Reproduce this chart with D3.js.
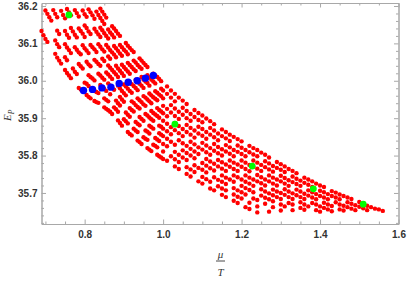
<!DOCTYPE html>
<html>
<head>
  <meta charset="utf-8">
  <title>E_P vs mu/T</title>
  <style>
    body { margin: 0; background: #fff; }
    svg { display: block; }
  </style>
</head>
<body>
  <svg width="409" height="281"></svg>
  <script src="https://cdn.jsdelivr.net/npm/d3@7/dist/d3.min.js"></script>
  <script>
  // 1. data ([mu/T, E_P] pairs), one array per strand of red dots
  var row0 = [[0.840,36.193],[0.845,36.185],[0.850,36.177],[0.855,36.169],
    [0.870,36.146],[0.875,36.140],[0.880,36.133],[0.885,36.126],[0.890,36.120],
    [0.905,36.101],[0.910,36.094],[0.915,36.088],[0.920,36.082],[0.925,36.077],
    [0.940,36.060],[0.945,36.054],[0.950,36.048],[0.955,36.042],[0.960,36.037],
    [0.975,36.019],[0.980,36.014],[0.985,36.010],[0.990,36.005],[0.995,35.999],
    [1.01,35.985],[1.02,35.974],[1.03,35.965],[1.04,35.955],[1.05,35.947],[1.06,35.938],
    [1.08,35.922],[1.09,35.914],[1.10,35.907],[1.11,35.899],[1.12,35.892],[1.13,35.884],
    [1.15,35.870],[1.16,35.863],[1.17,35.856],[1.18,35.850],[1.19,35.844],[1.20,35.838],
    [1.22,35.826],[1.23,35.820],[1.24,35.815],[1.25,35.808],[1.26,35.802],[1.27,35.795],
    [1.29,35.783],[1.30,35.777],[1.31,35.771],[1.32,35.764],[1.33,35.759],[1.34,35.753],
    [1.36,35.741],[1.37,35.736],[1.38,35.731],[1.39,35.725],[1.40,35.720],[1.41,35.716],
    [1.43,35.705],[1.44,35.701],[1.45,35.696],[1.46,35.692],[1.47,35.688],[1.48,35.684],
    [1.50,35.676],[1.51,35.672],[1.52,35.666],[1.53,35.662],[1.54,35.658],[1.55,35.656],[1.56,35.652]];
  var row1 = [[0.830,36.185],[0.835,36.176],[0.840,36.168],[0.845,36.160],[0.850,36.152],
    [0.860,36.137],[0.865,36.129],[0.870,36.123],[0.875,36.116],
    [0.890,36.096],[0.895,36.090],[0.900,36.083],[0.905,36.078],[0.910,36.071],
    [0.925,36.054],[0.930,36.049],[0.935,36.042],[0.940,36.037],[0.945,36.032],
    [0.960,36.015],[0.965,36.009],[0.970,36.003],[0.975,35.998],[0.980,35.993],
    [0.995,35.979],[1.00,35.974],[1.01,35.965],[1.02,35.955],[1.03,35.945],
    [1.05,35.928],[1.06,35.919],[1.07,35.911],[1.08,35.903],[1.09,35.895],[1.10,35.889],
    [1.12,35.874],[1.13,35.867],[1.14,35.859],[1.15,35.852],[1.16,35.846],[1.17,35.839],
    [1.19,35.827],[1.20,35.821],[1.21,35.815],[1.22,35.809],[1.23,35.803],[1.24,35.798],
    [1.26,35.785],[1.27,35.779],[1.28,35.772],[1.29,35.767],[1.30,35.762],[1.31,35.756],
    [1.33,35.744],[1.34,35.738],[1.35,35.733],[1.36,35.727],[1.37,35.722],[1.38,35.716],
    [1.40,35.706],[1.41,35.702],[1.42,35.697],[1.43,35.692],[1.44,35.688],[1.45,35.683],
    [1.47,35.675],[1.48,35.671],[1.49,35.667],[1.50,35.663],[1.51,35.659],[1.52,35.654]];
  var row2 = [[0.810,36.191],[0.815,36.183],[0.820,36.175],[0.825,36.166],
    [0.840,36.142],[0.845,36.135],[0.850,36.127],[0.855,36.120],[0.860,36.113],
    [0.875,36.093],[0.880,36.087],[0.885,36.080],[0.890,36.073],[0.895,36.067],
    [0.910,36.048],[0.915,36.042],[0.920,36.037],[0.925,36.031],[0.930,36.026],
    [0.945,36.010],[0.950,36.003],[0.955,35.998],[0.960,35.994],[0.965,35.987],
    [0.980,35.972],[0.985,35.968],[0.990,35.963],[0.995,35.959],[1.00,35.953],
    [1.02,35.935],[1.03,35.926],[1.04,35.917],[1.05,35.909],[1.06,35.900],[1.07,35.893],
    [1.09,35.877],[1.10,35.871],[1.11,35.863],[1.12,35.856],[1.13,35.849],[1.14,35.841],
    [1.16,35.828],[1.17,35.822],[1.18,35.815],[1.19,35.810],[1.20,35.804],[1.21,35.798],
    [1.23,35.787],[1.24,35.781],[1.25,35.775],[1.26,35.769],[1.27,35.763],[1.28,35.757],
    [1.30,35.746],[1.31,35.740],[1.32,35.734],[1.33,35.729],[1.34,35.724],[1.35,35.719],
    [1.37,35.707],[1.38,35.702],[1.39,35.697],[1.40,35.692],[1.41,35.688],[1.42,35.683],
    [1.44,35.675],[1.45,35.669],[1.46,35.666],[1.47,35.662],[1.48,35.658],[1.49,35.654]];
  var row3 = [[0.795,36.188],[0.800,36.178],[0.805,36.171],
    [0.825,36.139],[0.830,36.131],[0.835,36.124],[0.840,36.117],
    [0.855,36.096],[0.860,36.089],[0.865,36.082],[0.870,36.076],[0.875,36.070],[0.880,36.063],
    [0.895,36.043],[0.900,36.037],[0.905,36.031],[0.910,36.025],[0.915,36.019],
    [0.930,36.003],[0.935,35.998],[0.940,35.992],[0.945,35.987],[0.950,35.981],
    [0.965,35.966],[0.970,35.961],[0.975,35.956],[0.980,35.952],[0.985,35.948],
    [1.00,35.933],[1.01,35.925],[1.02,35.915],[1.03,35.906],[1.04,35.898],
    [1.06,35.882],[1.07,35.874],[1.08,35.867],[1.09,35.859],[1.10,35.853],[1.11,35.845],
    [1.13,35.831],[1.14,35.823],[1.15,35.817],[1.16,35.811],[1.17,35.805],[1.18,35.798],
    [1.20,35.787],[1.21,35.781],[1.22,35.775],[1.23,35.770],[1.24,35.765],[1.25,35.759],
    [1.27,35.747],[1.28,35.741],[1.29,35.736],[1.30,35.731],[1.31,35.725],[1.32,35.719],
    [1.34,35.709],[1.35,35.704],[1.36,35.698],[1.37,35.693],[1.38,35.688],[1.39,35.683],
    [1.41,35.674],[1.42,35.669],[1.43,35.665],
    [1.45,35.656],[1.46,35.653]];
  var row4 = [[0.775,36.189],[0.780,36.181],[0.785,36.172],
    [0.800,36.148],[0.805,36.141],[0.810,36.132],[0.815,36.125],
    [0.835,36.098],[0.840,36.091],[0.845,36.084],[0.850,36.078],
    [0.860,36.065],[0.865,36.059],
    [0.880,36.040],[0.885,36.033],[0.890,36.027],[0.895,36.020],[0.900,36.013],
    [0.915,35.996],[0.920,35.991],[0.925,35.986],[0.930,35.981],[0.935,35.975],
    [0.950,35.959],[0.955,35.955],[0.960,35.950],[0.965,35.945],[0.970,35.940],
    [0.985,35.927],[0.990,35.922],[0.995,35.918],[1.00,35.913],[1.01,35.905],
    [1.03,35.887],[1.04,35.879],[1.05,35.871],[1.06,35.863],[1.07,35.856],[1.08,35.848],
    [1.10,35.834],[1.11,35.827],[1.12,35.820],[1.13,35.813],[1.14,35.806],[1.15,35.800],
    [1.17,35.787],[1.18,35.781],[1.19,35.776],[1.20,35.770],[1.21,35.764],[1.22,35.758],
    [1.24,35.748],[1.25,35.742],[1.26,35.736],[1.27,35.731],[1.28,35.725],[1.29,35.720],
    [1.31,35.710],[1.32,35.704],[1.33,35.699],[1.34,35.694],[1.35,35.689],[1.36,35.684],
    [1.38,35.673],[1.39,35.669],[1.40,35.664],[1.41,35.660],[1.42,35.656],[1.43,35.651]];
  var row5 = [[0.755,36.192],[0.760,36.183],[0.765,36.175],
    [0.785,36.140],[0.790,36.133],[0.795,36.126],[0.800,36.117],
    [0.815,36.096],[0.820,36.090],[0.825,36.084],[0.830,36.077],
    [0.845,36.059],[0.850,36.053],
    [0.860,36.041],[0.865,36.035],[0.870,36.029],[0.875,36.023],[0.880,36.017],[0.885,36.010],
    [0.900,35.990],[0.905,35.985],[0.910,35.979],[0.915,35.973],[0.920,35.968],
    [0.935,35.953],[0.940,35.948],[0.945,35.943],[0.950,35.937],[0.955,35.933],
    [0.970,35.919],[0.975,35.914],[0.980,35.910],[0.985,35.906],[0.990,35.901],
    [1.00,35.893],[1.01,35.885],[1.02,35.876],[1.03,35.868],[1.04,35.860],[1.05,35.852],
    [1.07,35.837],[1.08,35.830],[1.09,35.822],[1.10,35.816],[1.11,35.809],[1.12,35.802],
    [1.14,35.788],[1.15,35.782],[1.16,35.776],[1.17,35.770],[1.18,35.764],[1.19,35.759],
    [1.21,35.747],[1.22,35.741],[1.23,35.736],[1.24,35.731],[1.25,35.726],[1.26,35.720],
    [1.28,35.709],[1.29,35.704],[1.30,35.700],[1.31,35.695],[1.32,35.689],[1.33,35.684],
    [1.35,35.675],[1.36,35.669],[1.37,35.664],
    [1.39,35.654],[1.40,35.650]];
  var row6 = [[0.740,36.187],[0.745,36.176],[0.750,36.167],
    [0.765,36.141],[0.770,36.132],[0.775,36.123],[0.780,36.116],
    [0.795,36.095],[0.800,36.087],[0.805,36.081],[0.810,36.074],
    [0.825,36.056],[0.830,36.051],[0.835,36.045],[0.840,36.040],
    [0.855,36.022],[0.860,36.017],[0.865,36.011],[0.870,36.005],
    [0.885,35.987],[0.890,35.980],[0.895,35.973],[0.900,35.967],[0.905,35.961],
    [0.920,35.945],[0.925,35.941],[0.930,35.935],[0.935,35.930],[0.940,35.926],
    [0.955,35.911],[0.960,35.907],[0.965,35.902],[0.970,35.897],[0.975,35.893],
    [0.990,35.880],[0.995,35.877],[1.00,35.872],[1.01,35.865],[1.02,35.857],
    [1.04,35.841],[1.05,35.833],[1.06,35.826],[1.07,35.818],[1.08,35.811],[1.09,35.804],
    [1.11,35.791],[1.12,35.784],[1.13,35.778],[1.14,35.771],[1.15,35.765],[1.16,35.759],
    [1.18,35.747],[1.19,35.742],[1.20,35.736],[1.21,35.730],[1.22,35.725],[1.23,35.719],
    [1.25,35.710],[1.26,35.704],[1.27,35.699],[1.28,35.694],[1.29,35.689],[1.30,35.684],
    [1.32,35.673],[1.33,35.669],
    [1.35,35.660],[1.36,35.655]];
  var row7 = [[0.720,36.189],[0.725,36.179],[0.730,36.170],
    [0.750,36.133],[0.755,36.123],[0.760,36.115],
    [0.775,36.090],[0.780,36.083],[0.785,36.076],[0.790,36.071],
    [0.805,36.051],[0.810,36.044],[0.815,36.039],
    [0.835,36.019],[0.840,36.014],[0.845,36.008],[0.850,36.003],
    [0.860,35.993],[0.865,35.987],[0.870,35.982],[0.875,35.976],
    [0.890,35.957],[0.895,35.950],[0.900,35.944],
    [0.915,35.927],[0.920,35.922],[0.925,35.918],
    [0.940,35.903],[0.945,35.898],[0.950,35.893],
    [0.965,35.880],[0.970,35.876],[0.975,35.872],
    [0.990,35.860],[0.995,35.856],[1.00,35.852],[1.01,35.845],[1.02,35.837],[1.03,35.829],
    [1.05,35.814],[1.06,35.807],[1.07,35.800],[1.08,35.793],
    [1.10,35.780],[1.11,35.773],[1.12,35.766],[1.13,35.760],
    [1.15,35.747],[1.16,35.741],[1.17,35.736],[1.18,35.730],
    [1.20,35.719],[1.21,35.713],[1.22,35.708],[1.23,35.702],
    [1.25,35.693],[1.26,35.687],[1.27,35.683],[1.28,35.678],
    [1.30,35.669],[1.31,35.664],
    [1.33,35.654]];
  var row8 = [[0.700,36.188],[0.705,36.179],[0.710,36.170],[0.715,36.161],
    [0.730,36.134],[0.735,36.125],
    [0.750,36.098],[0.755,36.089],[0.760,36.082],[0.765,36.074],
    [0.785,36.045],[0.790,36.039],[0.795,36.033],
    [0.810,36.015],[0.815,36.010],[0.820,36.006],[0.825,36.001],
    [0.840,35.989],[0.845,35.983],[0.850,35.978],[0.855,35.973],
    [0.865,35.964],
    [0.880,35.947],[0.885,35.940],[0.890,35.934],
    [0.905,35.915],[0.910,35.909],[0.915,35.904],
    [0.930,35.890],[0.935,35.885],[0.940,35.881],
    [0.955,35.867],[0.960,35.864],[0.965,35.859],
    [0.980,35.847],[0.985,35.843],[0.990,35.839],
    [1.00,35.831],[1.01,35.825],
    [1.03,35.810],[1.04,35.802],[1.05,35.795],[1.06,35.788],
    [1.08,35.774],[1.09,35.767],[1.10,35.762],[1.11,35.755],
    [1.13,35.742],[1.14,35.735],[1.15,35.730],[1.16,35.724],
    [1.18,35.713],[1.19,35.707],[1.20,35.702],[1.21,35.696],
    [1.23,35.685],[1.24,35.681],
    [1.26,35.671],
    [1.28,35.662],
    [1.30,35.653]];
  var row9 = [[0.725,36.108],[0.730,36.098],[0.735,36.090],
    [0.750,36.063],[0.755,36.055],
    [0.770,36.033],[0.775,36.024],[0.780,36.018],
    [0.800,35.995],[0.805,35.992],[0.810,35.986],
    [0.825,35.973],[0.830,35.970],[0.835,35.967],
    [0.850,35.953],[0.855,35.949],[0.860,35.945],
    [0.875,35.929],[0.880,35.924],[0.885,35.917],
    [0.900,35.897],[0.905,35.892],[0.910,35.886],
    [0.925,35.872],[0.930,35.867],[0.935,35.863],
    [0.950,35.849],[0.955,35.845],[0.960,35.842],
    [0.975,35.829],[0.980,35.826],[0.985,35.822],
    [1.00,35.811],
    [1.02,35.798],[1.03,35.790],[1.04,35.783],
    [1.06,35.769],[1.07,35.763],[1.08,35.756],
    [1.10,35.743],[1.11,35.737],[1.12,35.730],
    [1.14,35.718],[1.15,35.712],[1.16,35.707],
    [1.18,35.696],[1.19,35.690],[1.20,35.685],
    [1.22,35.674],
    [1.24,35.664],
    [1.27,35.650]];
  var row10 = [[0.690,36.133],[0.695,36.122],[0.700,36.112],[0.705,36.104],
    [0.725,36.072],[0.730,36.062],[0.735,36.054],[0.740,36.046],
    [0.750,36.029],[0.755,36.021],[0.760,36.014],[0.765,36.007],
    [0.785,35.981],[0.790,35.977],
    [0.805,35.962],[0.810,35.957],[0.815,35.953],
    [0.825,35.946],[0.830,35.943],[0.835,35.941],
    [0.850,35.929],[0.855,35.925],[0.860,35.921],[0.865,35.917],[0.870,35.911],
    [0.885,35.894],[0.890,35.887],[0.895,35.880],
    [0.910,35.863],[0.915,35.858],[0.920,35.854],
    [0.935,35.840],[0.940,35.836],[0.945,35.831],
    [0.960,35.820],[0.965,35.816],[0.970,35.812],
    [0.985,35.802],[0.990,35.798],[0.995,35.795],[1.00,35.791],[1.01,35.786],
    [1.03,35.771],[1.04,35.764],
    [1.06,35.751],[1.07,35.744],
    [1.09,35.731],[1.10,35.725],
    [1.12,35.712],[1.13,35.707],
    [1.15,35.695],[1.16,35.689],
    [1.18,35.679],[1.19,35.673],
    [1.21,35.662],[1.22,35.657],
    [1.24,35.648]];

  var blueX = [0.797, 0.820, 0.844, 0.867, 0.888, 0.911, 0.934, 0.955, 0.975];
  var blueY = [35.974, 35.977, 35.981, 35.983, 35.993, 35.996, 36.000, 36.007, 36.014];

  var greenX = [0.760, 1.030, 1.227, 1.383, 1.510];
  var greenY = [36.176, 35.884, 35.772, 35.711, 35.670];

  var xMajor = [0.8, 1.0, 1.2, 1.4, 1.6];
  var yMajor = [35.7, 35.8, 35.9, 36.0, 36.1, 36.2];

  // 2. scales and frame
  var svg = d3.select("svg");
  var x = d3.scaleLinear().domain([0.69, 1.6]).range([41.5, 398.5]);
  var y = d3.scaleLinear().domain([35.617, 36.208]).range([224, 3]);

  var xMinor = d3.range(0.70, 1.6, 0.05).map(function(v) { return +v.toFixed(2); })
    .filter(function(v) { return xMajor.indexOf(v) < 0; });
  var yMinor = d3.range(35.62, 36.21, 0.02).map(function(v) { return +v.toFixed(2); })
    .filter(function(v) { return yMajor.indexOf(v) < 0; });

  var frameColor = "#a8a8a8";
  var fmt = d3.format(".1f");

  function styleAxis(g, labels) {
    g.select(".domain").attr("stroke", frameColor).attr("stroke-width", 1);
    g.selectAll(".tick line").attr("stroke", frameColor).attr("stroke-width", 1);
    g.selectAll(".tick text")
      .attr("fill", labels ? "#333" : "none")
      .style("font-family", "'Liberation Sans', Arial, sans-serif")
      .style("font-size", "10px")
      .style("font-weight", "bold");
  }

  // bottom
  svg.append("g").attr("transform", "translate(0,224)")
    .call(d3.axisBottom(x).tickValues(xMinor).tickSizeInner(-2.5).tickSizeOuter(0).tickFormat(""))
    .call(styleAxis, false);
  svg.append("g").attr("transform", "translate(0,224)")
    .call(d3.axisBottom(x).tickValues(xMajor).tickSizeInner(-4.5).tickSizeOuter(0).tickPadding(7).tickFormat(fmt))
    .call(styleAxis, true);
  // top
  svg.append("g").attr("transform", "translate(0,3)")
    .call(d3.axisTop(x).tickValues(xMinor).tickSizeInner(-2.5).tickSizeOuter(0).tickFormat(""))
    .call(styleAxis, false);
  svg.append("g").attr("transform", "translate(0,3)")
    .call(d3.axisTop(x).tickValues(xMajor).tickSizeInner(-4.5).tickSizeOuter(0).tickFormat(""))
    .call(styleAxis, false);
  // left
  svg.append("g").attr("transform", "translate(41.5,0)")
    .call(d3.axisLeft(y).tickValues(yMinor).tickSizeInner(-2.5).tickSizeOuter(0).tickFormat(""))
    .call(styleAxis, false);
  svg.append("g").attr("transform", "translate(41.5,0)")
    .call(d3.axisLeft(y).tickValues(yMajor).tickSizeInner(-4.5).tickSizeOuter(0).tickPadding(4).tickFormat(fmt))
    .call(styleAxis, true);
  // right
  svg.append("g").attr("transform", "translate(398.5,0)")
    .call(d3.axisRight(y).tickValues(yMinor).tickSizeInner(-2.5).tickSizeOuter(0).tickFormat(""))
    .call(styleAxis, false);
  svg.append("g").attr("transform", "translate(398.5,0)")
    .call(d3.axisRight(y).tickValues(yMajor).tickSizeInner(-4.5).tickSizeOuter(0).tickFormat(""))
    .call(styleAxis, false);

  // 3. points
  var reds = d3.merge([row0, row1, row2, row3, row4, row5, row6, row7, row8, row9, row10]);
  svg.append("g").selectAll("circle")
    .data(reds)
    .enter()
    .append("circle")
    .attr("cx", function(d) { return x(d[0]); })
    .attr("cy", function(d) { return y(d[1]); })
    .attr("r", 2.2)
    .attr("fill", "#ff0000");

  svg.append("g").selectAll("circle")
    .data(blueX)
    .enter()
    .append("circle")
    .attr("cx", function(d) { return x(d); })
    .attr("cy", function(d, i) { return y(blueY[i]); })
    .attr("r", 3.7)
    .attr("fill", "#0000ff");

  svg.append("g").selectAll("circle")
    .data(greenX)
    .enter()
    .append("circle")
    .attr("cx", function(d) { return x(d); })
    .attr("cy", function(d, i) { return y(greenY[i]); })
    .attr("r", 3.4)
    .attr("fill", "#00ff00");

  // 4. axis titles
  var serif = "'Liberation Serif', 'DejaVu Serif', serif";
  var ylab = svg.append("text")
    .attr("transform", "translate(10.5,121) rotate(-90)")
    .attr("fill", "#333")
    .style("font-family", serif)
    .style("font-style", "italic")
    .style("font-size", "11px")
    .text("E");
  ylab.append("tspan").attr("dy", 3).style("font-size", "7.5px").text("P");

  svg.append("text")
    .attr("x", 220.5).attr("y", 257.5)
    .attr("text-anchor", "middle")
    .attr("fill", "#333")
    .style("font-family", serif)
    .style("font-style", "italic")
    .style("font-size", "11px")
    .text("\u03bc");
  svg.append("line")
    .attr("x1", 216).attr("x2", 225)
    .attr("y1", 261).attr("y2", 261)
    .attr("stroke", "#333").attr("stroke-width", 0.9);
  svg.append("text")
    .attr("x", 220.5).attr("y", 275.5)
    .attr("text-anchor", "middle")
    .attr("fill", "#333")
    .style("font-family", serif)
    .style("font-style", "italic")
    .style("font-size", "11px")
    .text("T");
  </script>
</body>
</html>
